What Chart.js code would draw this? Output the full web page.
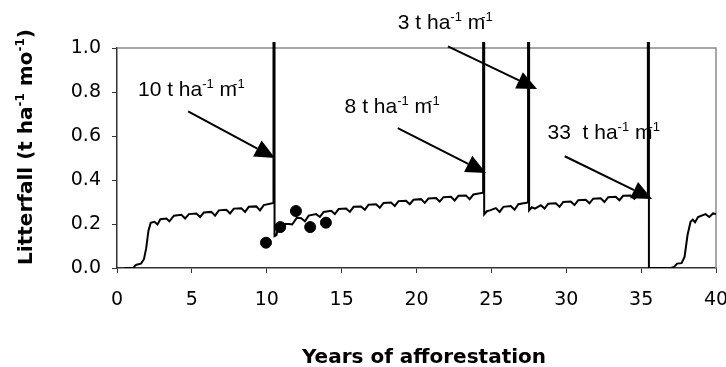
<!DOCTYPE html>
<html lang="en">
<head>
  <meta charset="UTF-8" />
  <title>Litterfall</title>
  <style>
    html, body {
      margin: 0;
      padding: 0;
      background: #fff;
    }
    #chart {
      display: block;
    }
  </style>
</head>
<body>

<canvas id="chart" width="726" height="367"></canvas>

<script src="https://cdn.jsdelivr.net/npm/chart.js"></script>

<script>
  // Simulated monthly litterfall, years since planting.
  // The tall pulses are the thinning / harvest residue inputs (t/ha in one month).
  const years = [
    0.5, 1.1, 1.2, 1.3, 1.6, 1.8, 1.95, 2.1, 2.25, 2.5, 2.7, 2.9,
    3.3, 3.5, 3.8, 4.3, 4.55, 4.8, 5.3, 5.55, 5.8, 6.3, 6.55, 6.8,
    7.3, 7.55, 7.8, 8.3, 8.55, 8.8, 9.3, 9.55, 9.8, 10.45,
    10.45, 10.52, 10.52, 10.65, 10.8, 11.5, 11.7, 12.0, 12.3, 12.55, 12.8,
    13.3, 13.55, 13.8, 14.3, 14.55, 14.8, 15.3, 15.55, 15.8, 16.3, 16.55, 16.8,
    17.3, 17.55, 17.8, 18.3, 18.55, 18.8, 19.3, 19.55, 19.8, 20.3, 20.55, 20.8,
    21.3, 21.55, 21.8, 22.3, 22.55, 22.8, 23.3, 23.55, 23.8, 24.45,
    24.45, 24.52, 24.52, 24.7, 24.9, 25.3, 25.55, 25.8, 26.3, 26.55, 26.8, 27.45,
    27.45, 27.52, 27.52, 27.7, 27.9, 28.3, 28.55, 28.8, 29.3, 29.55, 29.8,
    30.3, 30.55, 30.8, 31.3, 31.55, 31.8, 32.3, 32.55, 32.8, 33.3, 33.55, 33.8,
    34.3, 34.55, 34.8, 35.45,
    35.45, 35.52, 35.52, 37.0, 37.2, 37.4, 37.7, 37.9, 38.1, 38.3, 38.45, 38.6,
    38.8, 39.3, 39.55, 39.8, 40.0
  ];
  const litterfall = [
    0, 0, 0.01, 0.015, 0.02, 0.04, 0.09, 0.17, 0.205, 0.21, 0.198, 0.222,
    0.225, 0.212, 0.238, 0.242, 0.225, 0.245, 0.248, 0.232, 0.252, 0.255, 0.238, 0.262,
    0.265, 0.248, 0.27, 0.272, 0.255, 0.278, 0.28, 0.262, 0.286, 0.296,
    10, 10, 0.145, 0.15, 0.2, 0.2, 0.198, 0.228, 0.226, 0.212, 0.238,
    0.245, 0.232, 0.255, 0.26, 0.245, 0.268, 0.27, 0.255, 0.278, 0.28, 0.265, 0.288,
    0.29, 0.274, 0.296, 0.298, 0.282, 0.304, 0.306, 0.29, 0.31, 0.313, 0.296, 0.316,
    0.318, 0.302, 0.322, 0.324, 0.307, 0.328, 0.33, 0.313, 0.334, 0.342,
    8, 8, 0.244, 0.258, 0.262, 0.272, 0.255, 0.278, 0.282, 0.265, 0.29, 0.298,
    3, 3, 0.262, 0.276, 0.27, 0.285, 0.27, 0.292, 0.294, 0.278, 0.3,
    0.302, 0.286, 0.308, 0.31, 0.294, 0.315, 0.317, 0.3, 0.322, 0.324, 0.308, 0.328,
    0.33, 0.314, 0.334, 0.336,
    33, 33, 0, 0, 0.005, 0.02, 0.022, 0.05, 0.15, 0.21, 0.22, 0.208,
    0.232, 0.245, 0.232, 0.248, 0.245
  ];

  // Measured litterfall in the young stand
  const obsYears = [9.95, 10.9, 11.95, 12.9, 13.95];
  const obsLitterfall = [0.115, 0.186, 0.259, 0.186, 0.206];

  // Pulse labels and where their arrows sit, in axis units
  const pulseAmounts = ['10', '8', '3', '33 '];
  const labelX = [1.4, 15.2, 18.75, 28.75];
  const labelY = [0.78, 0.705, 1.085, 0.585];
  const arrowFromX = [4.75, 18.75, 22.1, 29.9];
  const arrowFromY = [0.712, 0.636, 1.007, 0.508];
  const arrowToX = [10.55, 24.64, 28.05, 35.73];
  const arrowToY = [0.5, 0.432, 0.814, 0.314];

  const tickFont = { family: 'DejaVu Sans', size: 19 };
  const noteFamily = '"Liberation Sans", Arial, sans-serif';
  const titleFamily = '"DejaVu Sans", Verdana, sans-serif';

  // draws text runs with superscripts, returns total width
  function drawRich(c, parts, x, y, size, family, weight, draw) {
    let cx = x;
    parts.forEach(p => {
      const s = p.sup ? Math.round(size * 0.6) : size;
      c.font = weight + ' ' + s + 'px ' + family;
      if (p.sup) cx -= (p.back || 0);
      if (draw) c.fillText(p.t, cx, p.sup ? y - size * 0.38 : y);
      cx += c.measureText(p.t).width;
    });
    return cx - x;
  }

  function unitParts(lead) {
    return [
      { t: lead + ' t ha' }, { t: '-1', sup: true },
      { t: ' m' }, { t: '-1', sup: true, back: 4 }
    ];
  }

  const decorations = {
    id: 'decorations',
    beforeDatasetsDraw(chart) {
      const c = chart.ctx;
      const a = chart.chartArea;
      // grey frame on top and right
      c.save();
      c.strokeStyle = '#8a8a8a';
      c.lineWidth = 1.5;
      c.beginPath();
      c.moveTo(a.left, a.top);
      c.lineTo(a.right, a.top);
      c.lineTo(a.right, a.bottom);
      c.stroke();
      c.restore();
    },
    afterDatasetsDraw(chart) {
      const c = chart.ctx;
      const xs = chart.scales.x;
      const ys = chart.scales.y;
      c.save();
      c.fillStyle = '#000';
      c.strokeStyle = '#000';
      c.textBaseline = 'alphabetic';

      pulseAmounts.forEach((amt, i) => {
        drawRich(c, unitParts(amt), xs.getPixelForValue(labelX[i]),
          ys.getPixelForValue(labelY[i]), 21, noteFamily, 'normal', true);

        const x0 = xs.getPixelForValue(arrowFromX[i]);
        const y0 = ys.getPixelForValue(arrowFromY[i]);
        const x1 = xs.getPixelForValue(arrowToX[i]);
        const y1 = ys.getPixelForValue(arrowToY[i]);
        const ang = Math.atan2(y1 - y0, x1 - x0);
        const len = 20, half = 9;
        const bx = x1 - len * Math.cos(ang);
        const by = y1 - len * Math.sin(ang);
        c.lineWidth = 2;
        c.beginPath();
        c.moveTo(x0, y0);
        c.lineTo(bx, by);
        c.stroke();
        c.beginPath();
        c.moveTo(x1, y1);
        c.lineTo(bx - half * Math.sin(ang), by + half * Math.cos(ang));
        c.lineTo(bx + half * Math.sin(ang), by - half * Math.cos(ang));
        c.closePath();
        c.fill();
      });

      // axis titles
      c.font = 'bold 20px ' + titleFamily;
      c.textAlign = 'center';
      c.fillText('Years of afforestation', 424, 363);

      c.textAlign = 'left';
      const yParts = [
        { t: 'Litterfall (t ha' }, { t: '-1', sup: true },
        { t: ' mo' }, { t: '-1', sup: true }, { t: ')' }
      ];
      c.translate(32, 147);
      c.rotate(-Math.PI / 2);
      const w = drawRich(c, yParts, 0, 0, 20, titleFamily, 'bold', false);
      drawRich(c, yParts, -w / 2, 0, 20, titleFamily, 'bold', true);
      c.restore();
    }
  };

  const chart = new Chart(document.getElementById('chart'), {
    type: 'scatter',
    data: {
      datasets: [
        {
          label: 'Observed',
          data: obsYears.map((x, i) => ({ x, y: obsLitterfall[i] })),
          backgroundColor: '#000',
          borderColor: '#000',
          pointRadius: 5.5,
          order: 0
        },
        {
          label: 'Simulated',
          type: 'line',
          data: years.map((x, i) => ({ x, y: litterfall[i] })),
          borderColor: '#000',
          borderWidth: 2,
          pointRadius: 0,
          tension: 0,
          fill: false,
          clip: { left: 0, top: 6, right: 0, bottom: 0 },
          order: 1
        }
      ]
    },
    options: {
      responsive: false,
      animation: false,
      layout: { padding: { left: 0, right: 10, top: 48, bottom: 0 } },
      plugins: {
        legend: { display: false },
        tooltip: { enabled: false }
      },
      scales: {
        x: {
          type: 'linear',
          min: 0,
          max: 40,
          ticks: { stepSize: 5, color: '#000', font: tickFont, padding: 16, maxRotation: 0 },
          grid: { drawOnChartArea: false, tickLength: 5, color: '#333' },
          border: { color: '#333', width: 1.5 },
          afterFit: s => {
            s.height = 99;
            s.paddingLeft = 0;
            s.paddingRight = 0;
          }
        },
        y: {
          min: 0,
          max: 1,
          ticks: {
            stepSize: 0.2,
            color: '#000',
            font: tickFont,
            padding: 11,
            callback: v => v.toFixed(1)
          },
          grid: { drawOnChartArea: false, tickLength: 5, color: '#333' },
          border: { color: '#333', width: 1.5 },
          afterFit: s => {
            s.width = 117;
            s.paddingTop = 0;
            s.paddingBottom = 0;
          }
        }
      }
    },
    plugins: [decorations]
  });
</script>

</body>
</html>
